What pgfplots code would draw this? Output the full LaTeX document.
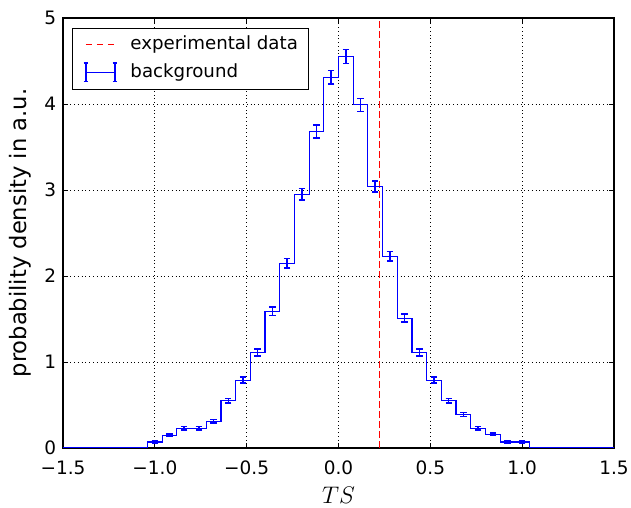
\documentclass[border=0pt]{standalone}
\usepackage{fontspec}
\setmainfont{DejaVu Sans}
\usepackage{pgfplots}
\usepackage{pgfplotstable}
\pgfplotsset{compat=1.18}

\pgfplotstableread{
x y e
-1.48 0 0
-1.40 0 0
-1.32 0 0
-1.24 0 0
-1.16 0 0
-1.08 0 0
-1.00 0.07 0.010
-0.92 0.15 0.015
-0.84 0.23 0.018
-0.76 0.23 0.018
-0.68 0.31 0.021
-0.60 0.55 0.028
-0.52 0.79 0.034
-0.44 1.11 0.040
-0.36 1.59 0.048
-0.28 2.15 0.056
-0.20 2.95 0.065
-0.12 3.68 0.073
-0.04 4.31 0.079
0.04 4.55 0.081
0.12 3.99 0.076
0.20 3.04 0.066
0.28 2.23 0.057
0.36 1.51 0.047
0.44 1.11 0.040
0.52 0.79 0.034
0.60 0.55 0.028
0.68 0.39 0.024
0.76 0.23 0.018
0.84 0.16 0.015
0.92 0.07 0.010
1.00 0.07 0.010
1.08 0 0
1.16 0 0
1.24 0 0
1.32 0 0
1.40 0 0
1.48 0 0
}\histdata

\begin{document}
\begin{tikzpicture}
\useasboundingbox (-45.36pt,-43.2pt) rectangle (408.96pt,322.56pt);
\begin{axis}[
  at={(0,0)}, anchor=south west,
  scale only axis, width=396.72pt, height=309.6pt,
  xmin=-1.5, xmax=1.5, ymin=0, ymax=5,
  xtick={-1.5,-1.0,-0.5,0,0.5,1.0,1.5},
  xticklabels={−1.5,−1.0,−0.5,0.0,0.5,1.0,1.5},
  ytick={0,1,2,3,4,5},
  yticklabels={0,1,2,3,4,5},
  tick align=inside,
  major tick length=3.6pt,
  tick style={black, line width=0.7pt},
  axis line style={black, line width=0.8pt},
  grid=major,
  major grid style={black, line width=0.6pt, dash pattern=on 0.7pt off 2pt},
  ticklabel style={font=\fontsize{13.3}{15}\selectfont},
  xticklabel style={inner sep=0pt, yshift=-9pt},
  yticklabel style={xshift=-1.5pt},
  xlabel={$TS$},
  xlabel style={at={(axis description cs:0.5,-0.1302)}, anchor=base, font=\fontsize{16.3}{19}\selectfont},
  ylabel={probability density in a.u.},
  ylabel style={at={(axis description cs:-0.0671,0.5)}, anchor=base, font=\fontsize{16.3}{19}\selectfont},
  legend cell align=left,
  legend style={at={(axis description cs:0.0163,0.977)}, anchor=north west,
    draw=black, line width=0.8pt, fill=white, inner xsep=7.5pt, inner ysep=5.2pt,
    row sep=6.6pt, column sep=9pt,
    nodes={inner sep=0pt, text height=9.8pt, text depth=2.8pt, font=\fontsize{13.1}{15}\selectfont}},
]
\addplot[red, line width=0.72pt, dash pattern=on 4.8pt off 2.4pt,
  legend image code/.code={\draw[red, line width=0.72pt, dash pattern=on 4.3pt off 3.6pt] (0pt,0pt) -- (20.9pt,0pt);}]
  coordinates {(0.222,0) (0.222,5)};
\addlegendentry{experimental data}
\addplot[blue, line width=0.8pt, const plot mark mid,
  legend image code/.code={
    \draw[blue, line width=0.8pt] (0pt,0pt) -- (20.9pt,0pt);
    \draw[blue, line width=1.1pt] (0pt,-6.7pt) -- (0pt,6.7pt) (20.9pt,-6.7pt) -- (20.9pt,6.7pt);
    \draw[blue, line width=1.1pt] (-1.6pt,-6.7pt) -- (1.6pt,-6.7pt) (-1.6pt,6.7pt) -- (1.6pt,6.7pt)
      (19.3pt,-6.7pt) -- (22.5pt,-6.7pt) (19.3pt,6.7pt) -- (22.5pt,6.7pt);}]
  table[x=x, y=y] {\histdata};
\addlegendentry{background}
\addplot[draw=none, forget plot,
  error bars/.cd, y dir=both, y explicit,
  error bar style={draw=blue, solid, line width=1.1pt},
  error mark options={draw=blue, solid, rotate=90, mark size=2.3pt, line width=1.1pt}]
  table[x=x, y=y, y error=e] {\histdata};
\end{axis}
\end{tikzpicture}
\end{document}
